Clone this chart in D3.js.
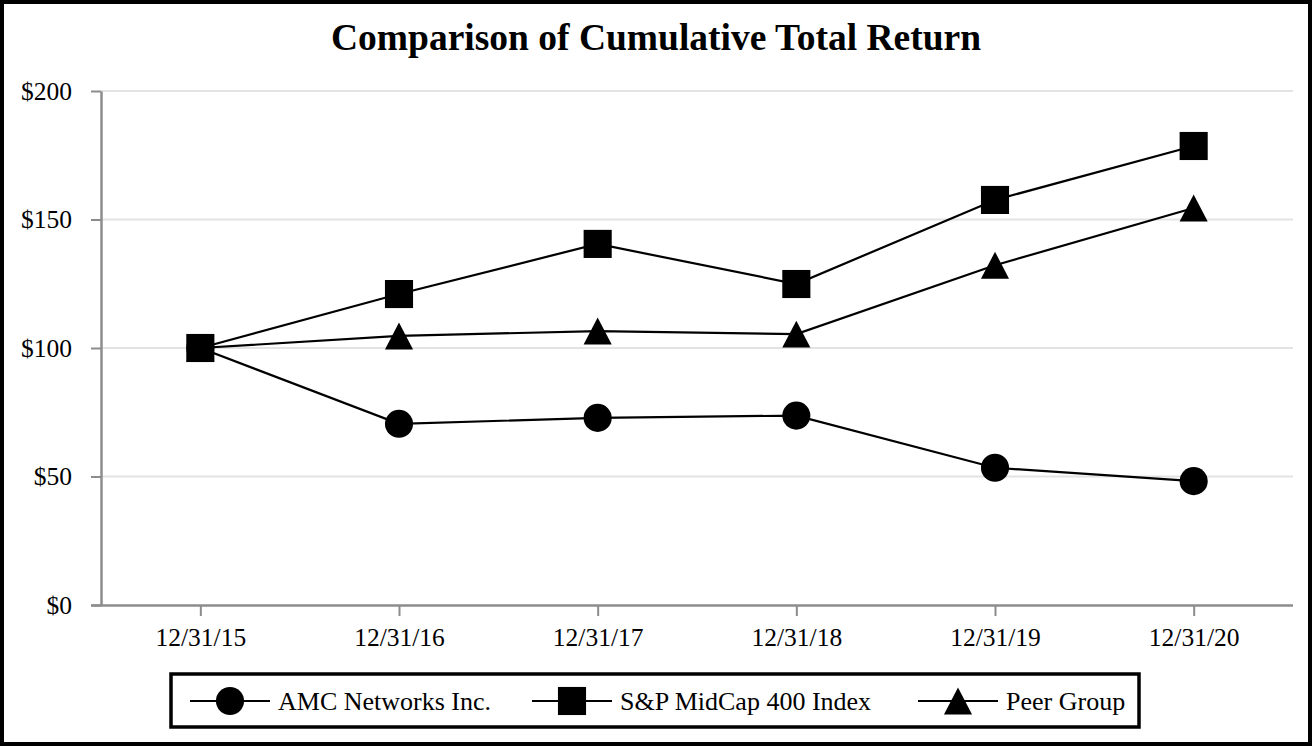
<!DOCTYPE html>
<html>
<head>
<meta charset="utf-8">
<script src="https://cdn.jsdelivr.net/npm/d3@7"></script>
<style>
  body { margin: 0; background: #fff; }
  text { font-family: "Liberation Serif", "Times New Roman", serif; fill: #000; }
</style>
</head>
<body>
<div id="my_dataviz"></div>
<script>
// data
var dates = ["12/31/15", "12/31/16", "12/31/17", "12/31/18", "12/31/19", "12/31/20"];
var amc = [100, 70.5, 72.8, 73.7, 53.4, 48.2];
var sp400 = [100, 121.0, 140.5, 124.9, 157.6, 178.6];
var peer = [100, 104.7, 106.6, 105.4, 132.2, 154.5];
var yTicks = [0, 50, 100, 150, 200];
var seriesNames = ["AMC Networks Inc.", "S&P MidCap 400 Index", "Peer Group"];

var width = 1312, height = 746;
var plot = {left: 101, right: 1293, top: 91, bottom: 605};

// triangle centred on its box, like the original
var tri = {
  draw: function(ctx, size) {
    var w = Math.sqrt(size) / 2, h = Math.sqrt(size) * 0.96 / 2;
    ctx.moveTo(0, -h);
    ctx.lineTo(w, h);
    ctx.lineTo(-w, h);
    ctx.closePath();
  }
};

var svg = d3.select("#my_dataviz")
  .append("svg")
    .attr("width", width)
    .attr("height", height);

// outer frame
svg.append("rect")
  .attr("x", 2).attr("y", 2)
  .attr("width", width - 4).attr("height", height - 4)
  .attr("fill", "#fff")
  .attr("stroke", "#000")
  .attr("stroke-width", 4);

svg.append("text")
  .attr("x", 656).attr("y", 50)
  .attr("text-anchor", "middle")
  .style("font-size", "37.5px")
  .style("font-weight", "bold")
  .text("Comparison of Cumulative Total Return");

var xScale = d3.scalePoint().domain(dates).range([plot.left, plot.right]).padding(0.5);
var yScale = d3.scaleLinear().domain([0, 200]).range([plot.bottom, plot.top]);

// gridlines
svg.append("g")
  .selectAll("line")
  .data(yTicks.filter(d => d > 0))
  .enter().append("line")
    .attr("x1", plot.left).attr("x2", plot.right)
    .attr("y1", d => yScale(d)).attr("y2", d => yScale(d))
    .attr("stroke", "#e3e3e3")
    .attr("stroke-width", 2);

var yAxis = d3.axisLeft(yScale)
  .tickValues(yTicks)
  .tickFormat(d => "$" + d)
  .tickSize(10)
  .tickSizeOuter(0)
  .tickPadding(19);

var yG = svg.append("g")
  .attr("transform", `translate(${plot.left},0)`)
  .call(yAxis);

var xAxis = d3.axisBottom(xScale)
  .tickSize(11)
  .tickSizeOuter(0)
  .tickPadding(12);

var xG = svg.append("g")
  .attr("transform", `translate(0,${plot.bottom})`)
  .call(xAxis);

xG.select(".domain").attr("d", `M${plot.left - 10},0.5H${plot.right}`);

[yG, xG].forEach(function(g) {
  g.select(".domain").attr("stroke", "#8c8c8c").attr("stroke-width", 2.5);
  g.selectAll(".tick line").attr("stroke", "#8c8c8c").attr("stroke-width", 2);
  g.selectAll(".tick text")
    .style("font-family", '"Liberation Serif", "Times New Roman", serif')
    .style("font-size", "25.5px")
    .attr("fill", "#000");
});

var series = [
  {name: seriesNames[0], values: amc, shape: d3.symbolCircle, size: 620},
  {name: seriesNames[1], values: sp400, shape: d3.symbolSquare, size: 790},
  {name: seriesNames[2], values: peer, shape: tri, size: 790}
];

var line = d3.line()
  .x((d, i) => xScale(dates[i]))
  .y(d => yScale(d));

var lineAndDots = svg.append("g");

series.forEach(function(s) {
  lineAndDots.append("path")
    .datum(s.values)
    .attr("fill", "none")
    .attr("stroke", "#000")
    .attr("stroke-width", 2.2)
    .attr("d", line);
});

// draw AMC last so the first S&P square sits on top like the original
[series[0], series[2], series[1]].forEach(function(s) {
  lineAndDots.selectAll(null)
    .data(s.values)
    .enter().append("path")
      .attr("transform", (d, i) => `translate(${xScale(dates[i])},${yScale(d)})`)
      .attr("d", d3.symbol().type(s.shape).size(s.size))
      .attr("fill", "#000");
});

// legend
var legend = svg.append("g");
legend.append("rect")
  .attr("x", 171).attr("y", 674)
  .attr("width", 968).attr("height", 53)
  .attr("fill", "#fff")
  .attr("stroke", "#000")
  .attr("stroke-width", 3.5);

var legendX = [230, 572, 958];
series.forEach(function(s, i) {
  var cx = legendX[i], cy = 701;
  legend.append("line")
    .attr("x1", cx - 40).attr("x2", cx + 40)
    .attr("y1", cy).attr("y2", cy)
    .attr("stroke", "#000")
    .attr("stroke-width", 2.2);
  legend.append("path")
    .attr("transform", `translate(${cx},${cy})`)
    .attr("d", d3.symbol().type(s.shape).size(s.size))
    .attr("fill", "#000");
  legend.append("text")
    .attr("x", cx + 48).attr("y", cy + 9)
    .style("font-size", "26px")
    .text(s.name);
});
</script>
</body>
</html>
